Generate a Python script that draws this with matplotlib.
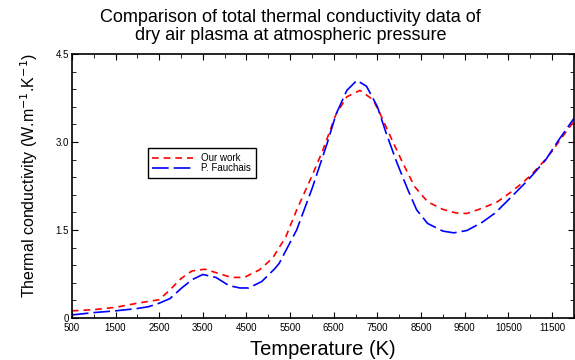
import matplotlib
matplotlib.use("Agg")
import matplotlib.pyplot as plt
from matplotlib.ticker import MultipleLocator, FixedLocator

plt.rcParams['font.family'] = ['Liberation Sans', 'DejaVu Sans']

# valeurs
T_our = [500, 1000, 1500, 2000, 2500, 2750, 3000, 3250, 3550, 3850, 4150, 4450,
         4800, 5100, 5400, 5650, 6000, 6250, 6550, 6800, 7100, 7400, 7550, 7800,
         8050, 8350, 8650, 9000, 9300, 9550, 9900, 10250, 10550, 10850, 11050,
         11300, 11500, 11700, 12000]
k_our = [0.12, 0.14, 0.18, 0.25, 0.31, 0.48, 0.67, 0.80, 0.83, 0.76, 0.69, 0.69,
         0.82, 1.02, 1.38, 1.84, 2.42, 2.86, 3.47, 3.77, 3.88, 3.72, 3.50, 3.09,
         2.69, 2.24, 1.98, 1.85, 1.79, 1.78, 1.87, 1.98, 2.14, 2.32, 2.46,
         2.66, 2.84, 3.05, 3.35]

T_fau = [500, 1000, 1500, 2000, 2250, 2500, 2750, 3000, 3250, 3500, 3800, 4100,
         4350, 4550, 4850, 5150, 5250, 5650, 6000, 6350, 6550, 6800, 7030, 7250,
         7500, 7700, 7950, 8200, 8400, 8650, 9000, 9250, 9550, 9900, 10200,
         10550, 10950, 11350, 11650, 12000]
k_fau = [0.05, 0.09, 0.12, 0.16, 0.19, 0.25, 0.33, 0.50, 0.65, 0.74, 0.69, 0.55,
         0.51, 0.51, 0.62, 0.84, 0.93, 1.50, 2.20, 2.98, 3.47, 3.88, 4.05, 3.95,
         3.60, 3.15, 2.64, 2.18, 1.84, 1.61, 1.48, 1.45, 1.49, 1.63, 1.79,
         2.05, 2.35, 2.69, 3.03, 3.40]

x_ticks = [500, 1500, 2500, 3500, 4500, 5500, 6500, 7500, 8500, 9500, 10500, 11500]
y_ticks = [0, 1.5, 3.0, 4.5]
y_labels = ["0", "1.5", "3.0", "4.5"]

fig = plt.figure(figsize=(5.75, 3.6), dpi=100)
ax = fig.add_axes([0.125, 0.117, 0.873, 0.733])

ax.plot(T_our, k_our, color="red", lw=1.2, dashes=(4, 3), label="Our work")
ax.plot(T_fau, k_fau, color="blue", lw=1.2, dashes=(10, 3), label="P. Fauchais")

ax.set_xlim(500, 12000)
ax.set_ylim(0, 4.5)
ax.xaxis.set_major_locator(FixedLocator(x_ticks))
ax.xaxis.set_minor_locator(MultipleLocator(500))
ax.set_yticks(y_ticks)
ax.set_yticklabels(y_labels)
ax.yaxis.set_minor_locator(MultipleLocator(0.3))
ax.tick_params(which="both", direction="in", top=True, right=True, labelsize=7)
ax.tick_params(axis="x", pad=4)
ax.tick_params(axis="y", pad=2)
ax.tick_params(which="major", length=4)
ax.tick_params(which="minor", length=3)
for s in ax.spines.values():
    s.set_linewidth(1.2)

ax.set_xlabel("Temperature (K)", fontsize=14.5, labelpad=5)
ax.set_ylabel("Thermal conductivity (W.m$^{-1}$.K$^{-1}$)", fontsize=11.5, labelpad=11)
ax.yaxis.label.set_y(0.54)
fig.text(0.505, 0.975,
         "Comparison of total thermal conductivity data of\ndry air plasma at atmospheric pressure",
         fontsize=13, ha="center", va="top", linespacing=1.05)

leg = ax.legend(loc="upper left", bbox_to_anchor=(0.141, 0.662), fontsize=7,
                handlelength=4.2, fancybox=False, edgecolor="black", framealpha=1,
                borderpad=0.5, labelspacing=0.05)
leg.get_frame().set_linewidth(1.0)

fig.savefig("out.png", dpi=100)
